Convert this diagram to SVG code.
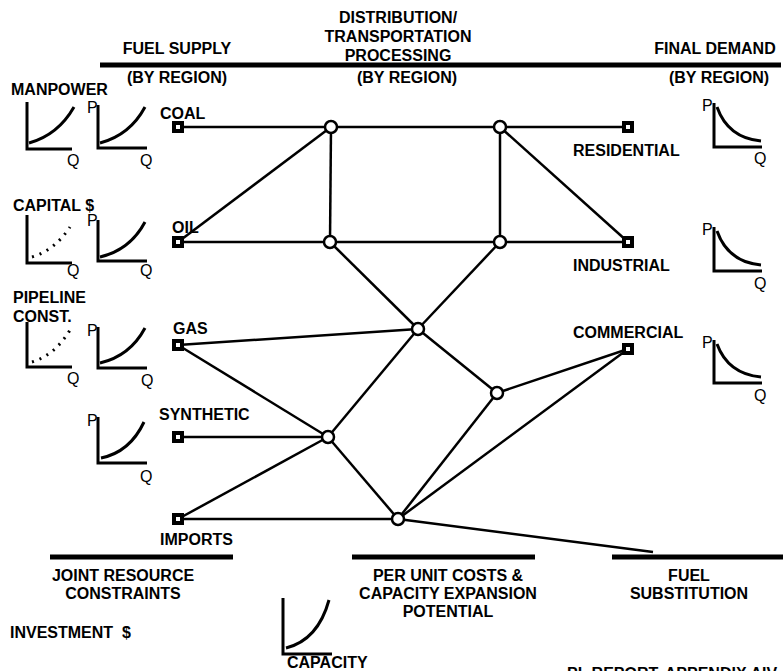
<svg xmlns="http://www.w3.org/2000/svg" width="783" height="671" viewBox="0 0 783 671">
<style>
text{font-family:"Liberation Sans",Arial,sans-serif;font-size:16px;fill:#000}
.b{font-weight:bold}
.m{text-anchor:middle}
.ax{fill:none;stroke:#000;stroke-width:3}
.cv{fill:none;stroke:#000;stroke-width:3}
.dt{fill:none;stroke:#000;stroke-width:3;stroke-dasharray:2 6}
.bar{stroke:#000;stroke-width:5}
.ln{stroke:#000;stroke-width:2.5;fill:none}
.sq{fill:#fff;stroke:#000;stroke-width:4}
.ci{fill:#fff;stroke:#000;stroke-width:2.5}
</style>
<rect width="783" height="671" fill="#fff"/>
<g id="headers">
<text class="b m" x="398" y="23">DISTRIBUTION/</text>
<text class="b m" x="398" y="42">TRANSPORTATION</text>
<text class="b m" x="398" y="61">PROCESSING</text>
<text class="b m" x="177" y="54">FUEL SUPPLY</text>
<text class="b m" x="715" y="54">FINAL DEMAND</text>
<line class="bar" x1="100" y1="65" x2="781" y2="65"/>
<text class="b m" x="177" y="83">(BY REGION)</text>
<text class="b m" x="407" y="83">(BY REGION)</text>
<text class="b m" x="719" y="83">(BY REGION)</text>
</g>
<g id="connectors">
<line class="ln" x1="178" y1="127" x2="628" y2="127"/>
<line class="ln" x1="178" y1="242" x2="628" y2="242"/>
<line class="ln" x1="178" y1="242" x2="331" y2="127"/>
<line class="ln" x1="331" y1="127" x2="330" y2="242"/>
<line class="ln" x1="500" y1="127" x2="500" y2="242"/>
<line class="ln" x1="500" y1="127" x2="628" y2="242"/>
<line class="ln" x1="330" y1="242" x2="418" y2="329"/>
<line class="ln" x1="500" y1="242" x2="418" y2="329"/>
<line class="ln" x1="418" y1="329" x2="328" y2="437"/>
<line class="ln" x1="418" y1="329" x2="497" y2="393"/>
<line class="ln" x1="178" y1="345" x2="418" y2="329"/>
<line class="ln" x1="178" y1="345" x2="328" y2="437"/>
<line class="ln" x1="178" y1="437" x2="328" y2="437"/>
<line class="ln" x1="178" y1="519" x2="328" y2="437"/>
<line class="ln" x1="178" y1="519" x2="398" y2="519"/>
<line class="ln" x1="328" y1="437" x2="398" y2="519"/>
<line class="ln" x1="497" y1="393" x2="398" y2="519"/>
<line class="ln" x1="497" y1="393" x2="628" y2="349"/>
<line class="ln" x1="398" y1="519" x2="628" y2="349"/>
<line class="ln" x1="398" y1="519" x2="653" y2="552"/>
</g>
<g id="coal"><rect class="sq" x="174" y="123" width="8" height="8"/><text class="b" x="160" y="119">COAL</text></g>
<g id="oil"><rect class="sq" x="174" y="238" width="8" height="8"/><text class="b" x="172" y="233">OIL</text></g>
<g id="gas"><rect class="sq" x="174" y="341" width="8" height="8"/><text class="b" x="173" y="334">GAS</text></g>
<g id="synthetic"><rect class="sq" x="174" y="433" width="8" height="8"/><text class="b" x="159" y="420">SYNTHETIC</text></g>
<g id="imports"><rect class="sq" x="174" y="515" width="8" height="8"/><text class="b" x="160" y="545">IMPORTS</text></g>
<g id="residential"><rect class="sq" x="624" y="123" width="8" height="8"/><text class="b" x="573" y="156">RESIDENTIAL</text></g>
<g id="industrial"><rect class="sq" x="624" y="238" width="8" height="8"/><text class="b" x="573" y="271">INDUSTRIAL</text></g>
<g id="commercial"><rect class="sq" x="624" y="345" width="8" height="8"/><text class="b" x="573" y="338">COMMERCIAL</text></g>
<g id="n1"><circle class="ci" cx="331" cy="127" r="6"/></g>
<g id="n2"><circle class="ci" cx="500" cy="127" r="6"/></g>
<g id="n3"><circle class="ci" cx="330" cy="242" r="6"/></g>
<g id="n4"><circle class="ci" cx="500" cy="242" r="6"/></g>
<g id="n5"><circle class="ci" cx="418" cy="329" r="6"/></g>
<g id="n6"><circle class="ci" cx="497" cy="393" r="6"/></g>
<g id="n7"><circle class="ci" cx="328" cy="437" r="6"/></g>
<g id="n8"><circle class="ci" cx="398" cy="519" r="6"/></g>
<g id="supply-graphs">
<text class="b" x="11" y="95">MANPOWER</text>
<path class="ax" d="M27,102V149H72"/>
<path class="cv" d="M29,143Q58,135 74,107"/>
<text x="67" y="166">Q</text>
<text x="87" y="113">P</text>
<path class="ax" d="M98,105V148H147"/>
<path class="cv" d="M100,143Q130,135 145,107"/>
<text x="140" y="166">Q</text>
<text class="b" x="13" y="211">CAPITAL $</text>
<path class="ax" d="M27,215V263H72"/>
<path class="dt" d="M32,257Q55,250 70,227"/>
<text x="67" y="276">Q</text>
<text x="87" y="226">P</text>
<path class="ax" d="M98,220V261H147"/>
<path class="cv" d="M100,257Q130,250 145,222"/>
<text x="140" y="276">Q</text>
<text class="b" x="13" y="303">PIPELINE</text>
<text class="b" x="13" y="322">CONST.</text>
<path class="ax" d="M27,322V367H72"/>
<path class="dt" d="M32,362Q55,355 70,330"/>
<text x="67" y="384">Q</text>
<text x="87" y="336">P</text>
<path class="ax" d="M98,327V368H147"/>
<path class="cv" d="M100,363Q130,356 145,328"/>
<text x="141" y="386">Q</text>
<text x="87" y="426">P</text>
<path class="ax" d="M98,417V463H147"/>
<path class="cv" d="M101,458Q130,452 144,422"/>
<text x="140" y="482">Q</text>
</g>
<g id="demand-graphs">
<text x="702" y="111">P</text>
<path class="ax" d="M714,103V147H762"/>
<path class="cv" d="M717,107Q728,138 761,141"/>
<text x="754" y="164">Q</text>
<text x="702" y="235">P</text>
<path class="ax" d="M714,227V271H762"/>
<path class="cv" d="M717,231Q728,262 761,265"/>
<text x="754" y="289">Q</text>
<text x="702" y="348">P</text>
<path class="ax" d="M714,340V383H762"/>
<path class="cv" d="M717,344Q728,374 761,377"/>
<text x="754" y="401">Q</text>
</g>
<g id="bottom">
<line class="bar" x1="50" y1="557" x2="233" y2="557"/>
<line class="bar" x1="352" y1="557" x2="535" y2="557"/>
<line class="bar" x1="612" y1="557" x2="783" y2="557"/>
<text class="b m" x="123" y="581">JOINT RESOURCE</text>
<text class="b m" x="123" y="599">CONSTRAINTS</text>
<text class="b m" x="448" y="581">PER UNIT COSTS &amp;</text>
<text class="b m" x="448" y="599">CAPACITY EXPANSION</text>
<text class="b m" x="448" y="617">POTENTIAL</text>
<text class="b m" x="689" y="581">FUEL</text>
<text class="b m" x="689" y="599">SUBSTITUTION</text>
<text class="b" x="10" y="638" xml:space="preserve">INVESTMENT  $</text>
<path class="ax" d="M283,598V654H332"/>
<path class="cv" d="M286,648Q318,640 329,600"/>
<text class="b" x="287" y="668">CAPACITY</text>
<text class="b" x="567" y="679">PL REPORT, APPENDIX AIV</text>
</g>
</svg>
